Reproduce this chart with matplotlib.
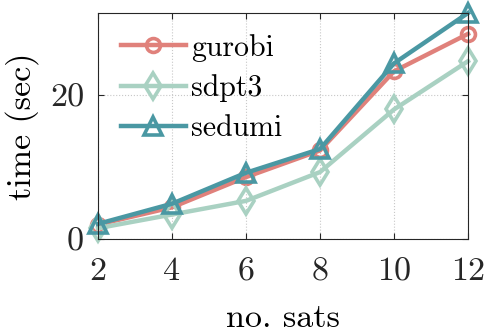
import matplotlib
matplotlib.use("Agg")
import matplotlib.pyplot as plt

plt.rcParams['font.family'] = ['cmr10', 'DejaVu Serif']
plt.rcParams['axes.formatter.use_mathtext'] = True
plt.rcParams['mathtext.fontset'] = 'cm'

sats = [2, 4, 6, 8, 10, 12]
gurobi = [2.0, 4.4, 8.6, 12.3, 23.3, 28.5]
sdpt3 = [1.5, 3.4, 5.3, 9.3, 18.0, 24.7]
sedumi = [2.1, 4.9, 9.2, 12.5, 24.4, 31.4]
xticks = [2, 4, 6, 8, 10, 12]
yticks = [0, 20]

fig = plt.figure(figsize=(4.84, 3.32), dpi=100)
ax = fig.add_axes([98/484, 1-239/332, 370/484, 226/332])

kw = dict(lw=3.2, mfc='none', mew=2.6, clip_on=False)
ax.plot(sats, gurobi, color='#E0817B', marker='o', ms=10, label='gurobi', **kw)
ax.plot(sats, sdpt3, color='#A9D1C2', marker='d', ms=13, label='sdpt3', **kw)
ax.plot(sats, sedumi, color='#4A98A3', marker='^', ms=13, label='sedumi', **kw)

ax.set_xlim(2, 12)
ax.set_ylim(0, 31.4)
ax.set_xticks(xticks)
ax.set_yticks(yticks)
ax.set_xticklabels([str(v) for v in xticks])
ax.set_yticklabels([str(v) for v in yticks])
ax.tick_params(axis='both', labelsize=24.5, direction='in', length=4, width=0.8,
               colors='#262626', top=True, right=True)
ax.tick_params(axis='x', pad=13)
ax.tick_params(axis='y', pad=10)
ax.grid(True, linestyle=':', color='#c8c8c8', lw=0.8)
for s in ax.spines.values():
    s.set_color('#262626')
    s.set_linewidth(0.8)
ax.set_xlabel('no. sats', fontsize=24.5, labelpad=13)
ax.set_ylabel('time (sec)', fontsize=24.5, labelpad=8)

leg = ax.legend(loc='upper left', frameon=False, fontsize=21.5, handlelength=2.17,
                handletextpad=0.17, labelspacing=0.42, borderaxespad=0, borderpad=0,
                bbox_to_anchor=(23/370, 1 - 21/226))

fig.savefig('out.png', dpi=100)
